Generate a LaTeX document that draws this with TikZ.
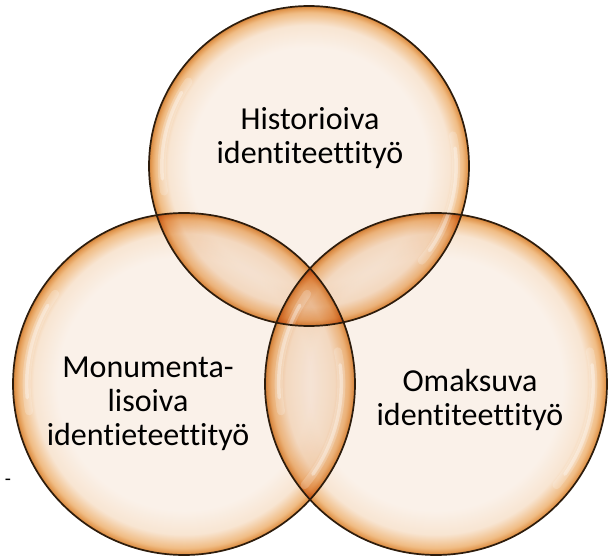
\documentclass[tikz,border=0pt]{standalone}
\usepackage{fontspec}
\setmainfont[Ligatures=NoCommon]{Carlito}
\definecolor{creamA}{RGB}{250,241,233}
\definecolor{creamB}{RGB}{248,229,210}
\definecolor{orA}{RGB}{240,188,132}
\definecolor{orB}{RGB}{226,152,80}
\definecolor{orC}{RGB}{204,126,56}
\definecolor{rim}{RGB}{45,28,12}
\pgfdeclareradialshading{bubble}{\pgfpoint{0bp}{0bp}}{color(0bp)=(creamA); color(18.5bp)=(creamA); color(22bp)=(creamB); color(24bp)=(orA); color(24.7bp)=(orB); color(25bp)=(orC); color(50bp)=(orC)}
\tikzset{
  bubblefill/.style={circle, inner sep=0pt, minimum size=#1, shade, shading=bubble},
  bubblerim/.style={draw=rim, line width=1.7pt},
  gloss/.style={draw=white, line cap=round, line width=#1},
  label/.style={align=center, font=\fontsize{32}{34}\selectfont, text=black, inner sep=0pt}
}
\begin{document}
\begin{tikzpicture}[x=1pt,y=1pt]
\useasboundingbox (0,0) rectangle (611,558);
% circle fills, multiplied so overlaps darken
\begin{scope}[blend mode=multiply]
  \node[bubblefill=320pt] (top) at (309,392) {};
  \node[bubblefill=342pt] (left) at (184,174) {};
  \node[bubblefill=342pt] (right) at (436,174) {};
\end{scope}
% gloss highlights
\foreach \c/\r in {top/160, left/171, right/171}{
  \begin{scope}[opacity=0.2]
    \draw[gloss=8pt] (\c.center) ++(145:0.92*\r pt) arc[start angle=145, end angle=190, radius=0.92*\r pt];
    \draw[gloss=8pt] (\c.center) ++(-40:0.92*\r pt) arc[start angle=-40, end angle=12, radius=0.92*\r pt];
  \end{scope}
  \begin{scope}[opacity=0.35]
    \draw[gloss=3.5pt] (\c.center) ++(150:0.92*\r pt) arc[start angle=150, end angle=185, radius=0.92*\r pt];
    \draw[gloss=3.5pt] (\c.center) ++(-35:0.92*\r pt) arc[start angle=-35, end angle=7, radius=0.92*\r pt];
  \end{scope}
}
% outlines
\draw[bubblerim] (top.center) circle[radius=160pt];
\draw[bubblerim] (left.center) circle[radius=171pt];
\draw[bubblerim] (right.center) circle[radius=171pt];
% labels
\node[label] (ltop) at (310,420) {Historioiva\\identiteettityö};
\node[label] (lleft) at (148,154) {Monumenta-\\lisoiva\\identieteettityö};
\node[label] (lright) at (470,158) {Omaksuva\\identiteettityö};
\node[label, font=\fontsize{20}{22}\selectfont] (dash) at (8,76) {-};
\end{tikzpicture}
\end{document}
